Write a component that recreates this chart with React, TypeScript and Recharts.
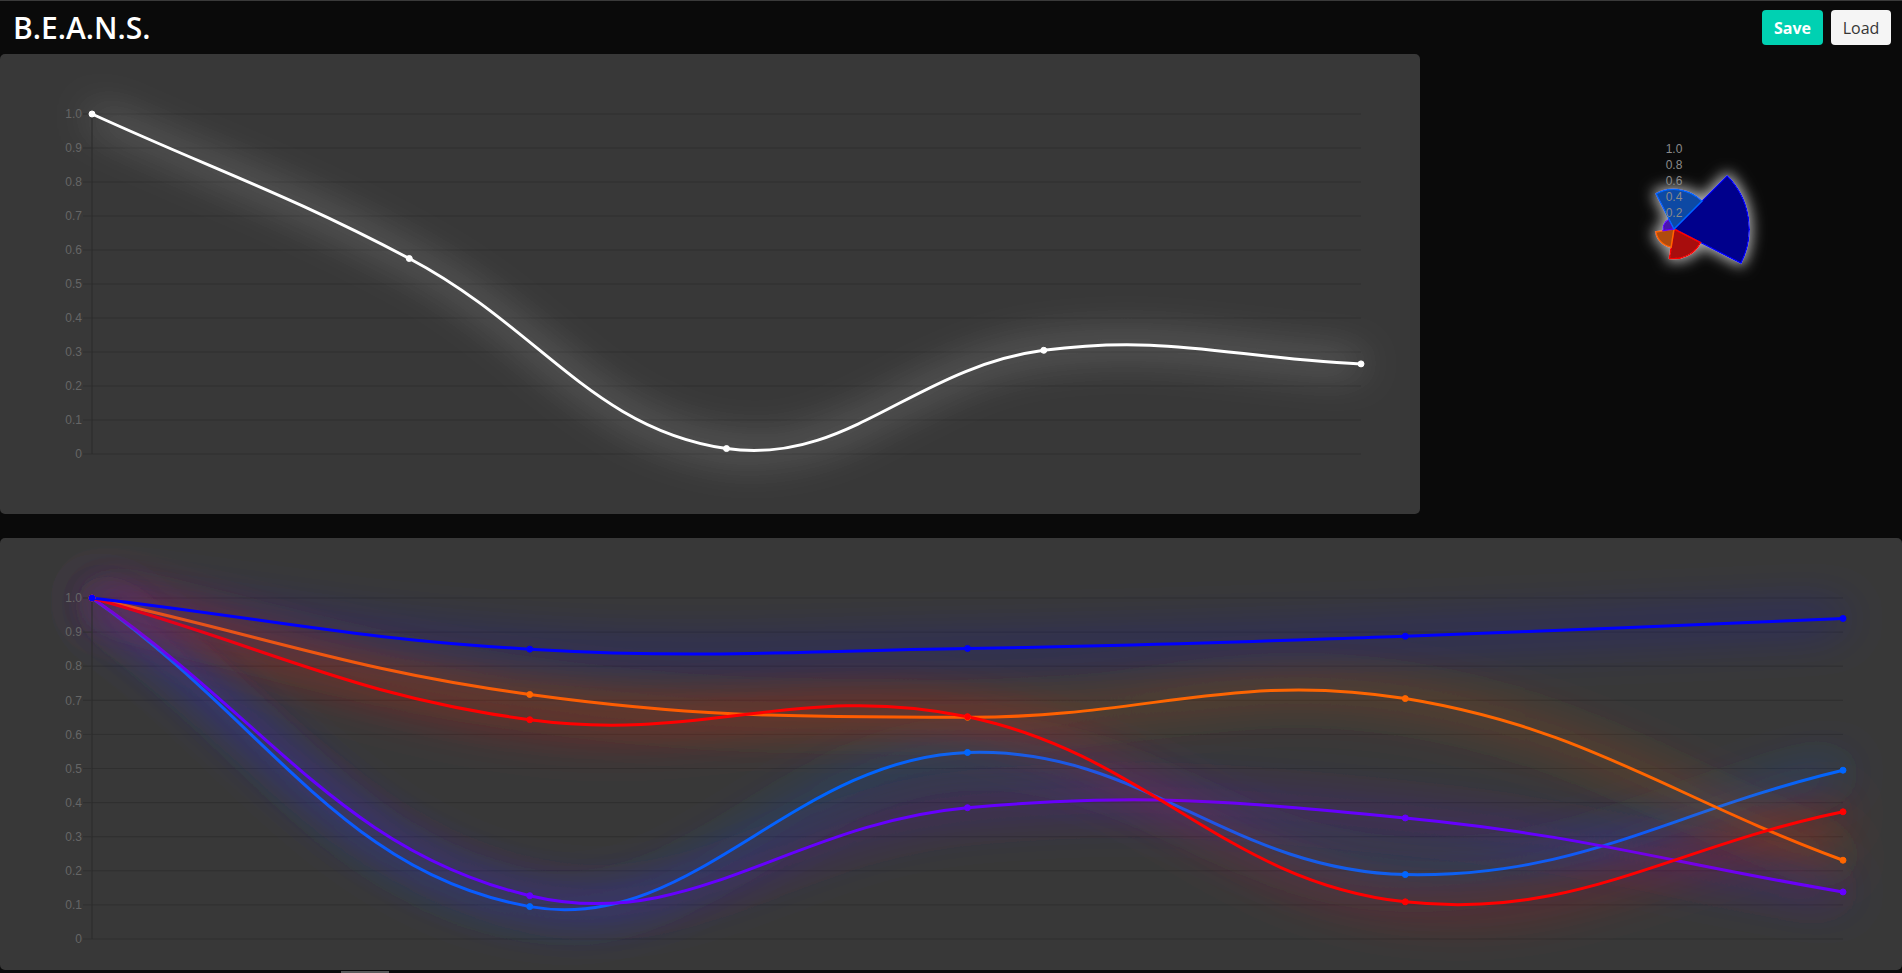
import React from 'react';
import {
  LineChart, Line, XAxis, YAxis, CartesianGrid,
  RadialBarChart, RadialBar, PolarAngleAxis, PolarRadiusAxis, Cell,
} from 'recharts';

// x positions (one per sample)
const steps = ['1', '2', '3', '4', '5'];

// top chart
const mainValues = [1.0, 0.575, 0.016, 0.305, 0.265];

// bottom chart series
const blueValues = [1.0, 0.85, 0.852, 0.888, 0.94];
const orangeValues = [1.0, 0.717, 0.65, 0.705, 0.231];
const redValues = [1.0, 0.643, 0.652, 0.109, 0.373];
const skyValues = [1.0, 0.095, 0.547, 0.189, 0.495];
const purpleValues = [1.0, 0.127, 0.385, 0.355, 0.138];

const yTicks = [0, 0.1, 0.2, 0.3, 0.4, 0.5, 0.6, 0.7, 0.8, 0.9, 1.0];
const polarTicks = [0.2, 0.4, 0.6, 0.8, 1.0];

// polar wedges, clockwise from the upper right
const polarNames = ['blue', 'red', 'orange', 'purple', 'sky'];
const polarValues = [blueValues[4], redValues[4], orangeValues[4], purpleValues[4], skyValues[4]];
const polarStroke = ['#0000ff', '#ff0000', '#ff6600', '#6600ff', '#0066ff'];
const polarFill = ['#00008c', '#a80c0c', '#b04c10', '#4a12b0', '#0c4aa4'];

const topData = steps.map((s, i) => ({ step: s, value: mainValues[i] }));
const bottomData = steps.map((s, i) => ({
  step: s,
  blue: blueValues[i],
  orange: orangeValues[i],
  red: redValues[i],
  sky: skyValues[i],
  purple: purpleValues[i],
}));
const polarData = polarNames.map((n, i) => ({
  name: n, value: polarValues[i], stroke: polarStroke[i], fill: polarFill[i],
}));

const bottomSeries = [
  { key: 'sky', color: '#0066ff' },
  { key: 'purple', color: '#6600ff' },
  { key: 'orange', color: '#ff6600' },
  { key: 'red', color: '#ff0000' },
  { key: 'blue', color: '#0000ff' },
];

// chart.js style spline (tension 0.4) as a d3 curve factory
const splineCurve = (tension: number) => (context: any) => {
  let pts: number[][] = [];
  return {
    areaStart() {},
    areaEnd() {},
    lineStart() { pts = []; },
    point(x: number, y: number) { pts.push([+x, +y]); },
    lineEnd() {
      const n = pts.length;
      if (!n) return;
      const cps = pts.map((p, i) => {
        const prev = pts[Math.max(0, i - 1)];
        const next = pts[Math.min(n - 1, i + 1)];
        const d01 = Math.hypot(p[0] - prev[0], p[1] - prev[1]);
        const d12 = Math.hypot(next[0] - p[0], next[1] - p[1]);
        let s01 = d01 / (d01 + d12);
        let s12 = d12 / (d01 + d12);
        if (isNaN(s01)) s01 = 0;
        if (isNaN(s12)) s12 = 0;
        const fa = tension * s01;
        const fb = tension * s12;
        return {
          px: p[0] - fa * (next[0] - prev[0]), py: p[1] - fa * (next[1] - prev[1]),
          nx: p[0] + fb * (next[0] - prev[0]), ny: p[1] + fb * (next[1] - prev[1]),
        };
      });
      context.moveTo(pts[0][0], pts[0][1]);
      for (let i = 1; i < n; i++) {
        context.bezierCurveTo(cps[i - 1].nx, cps[i - 1].ny, cps[i].px, cps[i].py, pts[i][0], pts[i][1]);
      }
    },
  };
};
const curve = splineCurve(0.4);

const tickStyle = { fontSize: 12, fill: '#666', fontFamily: '"Liberation Sans", Arial, sans-serif' };
const fmt = (v: number) => (v === 0 ? '0' : v.toFixed(1));

const PolarTick = ({ x, y, payload }: any) => (
  <text x={x} y={y} textAnchor="middle" dominantBaseline="central" fill="#8a8a8a" fontSize={12}
    fontFamily='"Liberation Sans", Arial, sans-serif'>
    {payload.value.toFixed(1)}
  </text>
);

const css = `
.glow-white .recharts-line-curve { filter: url(#glowWhite); }
.glow-color .recharts-line-curve { filter: url(#glowColor); }
.polar-bars { filter: url(#glowPolar); }
`;

const App: React.FC = () => {
  return (
    <div style={{
      position: 'fixed', left: 0, top: 0, width: 1902, height: 973, background: '#0a0a0a',
      borderTop: '1px solid #3a3a3a', boxSizing: 'border-box', overflow: 'hidden',
      fontFamily: '"Open Sans", sans-serif',
    }}>
      <style>{css}</style>
      <svg width={0} height={0} style={{ position: 'absolute' }}>
        <defs>
          <filter id="glowWhite" filterUnits="userSpaceOnUse" x={-100} y={-100} width={2200} height={800}>
            <feGaussianBlur in="SourceGraphic" stdDeviation={20} result="blur" />
            <feComponentTransfer in="blur" result="glow">
              <feFuncA type="linear" slope={1.6} />
            </feComponentTransfer>
            <feMerge>
              <feMergeNode in="glow" />
              <feMergeNode in="SourceGraphic" />
            </feMerge>
          </filter>
          <filter id="glowColor" filterUnits="userSpaceOnUse" x={-100} y={-100} width={2200} height={800}>
            <feGaussianBlur in="SourceGraphic" stdDeviation={24} result="blur" />
            <feComponentTransfer in="blur" result="glow">
              <feFuncA type="linear" slope={2.2} />
            </feComponentTransfer>
            <feMerge>
              <feMergeNode in="glow" />
              <feMergeNode in="SourceGraphic" />
            </feMerge>
          </filter>
          <filter id="glowPolar" filterUnits="userSpaceOnUse" x={-100} y={-100} width={500} height={500}>
            <feMorphology in="SourceAlpha" operator="dilate" radius={2} result="fat" />
            <feGaussianBlur in="fat" stdDeviation={7} result="blur" />
            <feFlood floodColor="#ffffff" floodOpacity={0.7} />
            <feComposite in2="blur" operator="in" result="glow" />
            <feMerge>
              <feMergeNode in="glow" />
              <feMergeNode in="SourceGraphic" />
            </feMerge>
          </filter>
        </defs>
      </svg>

      <div style={{
        position: 'absolute', left: 13, top: 12, fontSize: 30, lineHeight: '30px',
        fontWeight: 600, color: '#fff',
      }}>
        B.E.A.N.S.
      </div>

      <div style={{
        position: 'absolute', left: 1762, top: 9, width: 61, height: 35, background: '#00d1b2',
        borderRadius: 4, color: '#fff', fontWeight: 700, fontSize: 16, display: 'flex',
        alignItems: 'center', justifyContent: 'center',
      }}>
        Save
      </div>
      <div style={{
        position: 'absolute', left: 1831, top: 9, width: 60, height: 35, background: '#f5f5f5',
        borderRadius: 4, color: '#363636', fontSize: 16, display: 'flex',
        alignItems: 'center', justifyContent: 'center',
      }}>
        Load
      </div>

      {/* single series chart */}
      <div style={{
        position: 'absolute', left: 0, top: 53, width: 1420, height: 460,
        background: '#383838', borderRadius: 5,
      }}>
        <LineChart width={1420} height={460} data={topData}
          margin={{ top: 60, right: 59, bottom: 60, left: 0 }}>
          <CartesianGrid vertical={false} stroke="#2f2f2f" />
          <XAxis dataKey="step" height={0} tick={false} tickLine={false}
            axisLine={{ stroke: '#282828' }} padding={{ left: 0, right: 0 }} />
          <YAxis width={92} domain={[0, 1]} ticks={yTicks} tickFormatter={fmt}
            tick={tickStyle} tickSize={9} tickMargin={1}
            tickLine={{ stroke: '#2f2f2f' }} axisLine={{ stroke: '#2a2a2a' }} />
          <Line className="glow-white" dataKey="value" type={curve as any} stroke="#ffffff"
            strokeWidth={3} dot={{ r: 3, fill: '#fff', stroke: '#fff', strokeWidth: 1 }}
            isAnimationActive={false} />
        </LineChart>
      </div>

      {/* polar area */}
      <div style={{ position: 'absolute', left: 1524, top: 78 }}>
        <RadialBarChart width={300} height={300} cx={150} cy={150} innerRadius={0} outerRadius={80}
          startAngle={-27} endAngle={-387} layout="centric" data={polarData}
          barCategoryGap={0} barGap={0} margin={{ top: 0, right: 0, bottom: 0, left: 0 }}>
          <PolarAngleAxis type="category" dataKey="name" tick={false} tickLine={false} axisLine={false} />
          <PolarRadiusAxis type="number" domain={[0, 1]} ticks={polarTicks as any} angle={90}
            axisLine={false} tickLine={false} tick={<PolarTick />} />
          <RadialBar dataKey="value" className="polar-bars" isAnimationActive={false}>
            {polarData.map((d) => (
              <Cell key={d.name} fill={d.fill} stroke={d.stroke} strokeWidth={1.5} />
            ))}
          </RadialBar>
        </RadialBarChart>
      </div>

      {/* multi series chart */}
      <div style={{
        position: 'absolute', left: 0, top: 537, width: 1902, height: 432,
        background: '#383838', borderRadius: 5,
      }}>
        <LineChart width={1902} height={432} data={bottomData}
          margin={{ top: 60, right: 59, bottom: 31, left: 0 }}>
          <CartesianGrid vertical={false} stroke="#2f2f2f" />
          <XAxis dataKey="step" height={0} tick={false} tickLine={false}
            axisLine={{ stroke: '#282828' }} padding={{ left: 0, right: 0 }} />
          <YAxis width={92} domain={[0, 1]} ticks={yTicks} tickFormatter={fmt}
            tick={tickStyle} tickSize={9} tickMargin={1}
            tickLine={{ stroke: '#2f2f2f' }} axisLine={{ stroke: '#2a2a2a' }} />
          {bottomSeries.map((s) => (
            <Line key={s.key} className="glow-color" dataKey={s.key} type={curve as any}
              stroke={s.color} strokeWidth={3}
              dot={{ r: 3, fill: s.color, stroke: s.color, strokeWidth: 1 }}
              isAnimationActive={false} />
          ))}
        </LineChart>
      </div>

      <div style={{ position: 'absolute', left: 341, top: 970, width: 48, height: 3, background: '#5a5a5a' }} />
    </div>
  );
};

export default App;
